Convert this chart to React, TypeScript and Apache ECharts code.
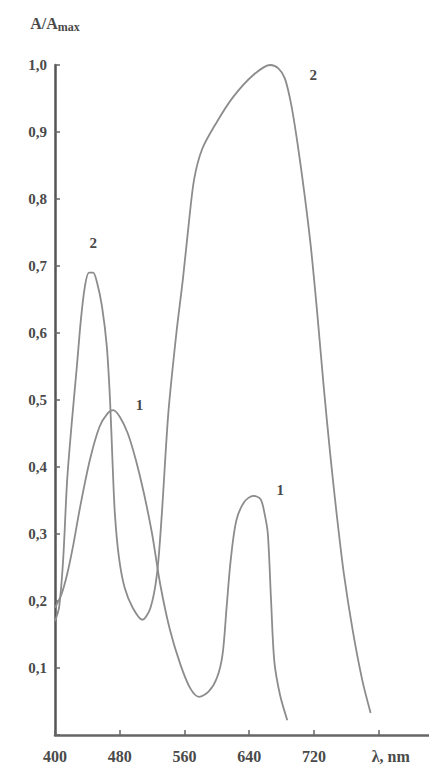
import React, { useEffect, useRef } from "react";
import * as echarts from "echarts";

// Curve 1 (wavelength nm, relative absorbance)
const curve1Nm = [400, 408, 415, 422, 431, 443, 455, 465, 472, 480, 490, 500, 510, 520, 530, 542, 555, 567, 578, 590, 600, 607, 612, 617, 624, 634, 645, 654, 659, 663, 667, 671, 678, 687];
const curve1Val = [0.19, 0.21, 0.24, 0.28, 0.34, 0.41, 0.46, 0.48, 0.485, 0.475, 0.45, 0.41, 0.36, 0.3, 0.225, 0.157, 0.105, 0.07, 0.057, 0.065, 0.085, 0.12, 0.19, 0.26, 0.32, 0.348, 0.357, 0.352, 0.33, 0.3, 0.2, 0.11, 0.06, 0.022];

// Curve 2
const curve2Nm = [400, 405, 410, 415, 421, 427, 432, 437, 442, 447, 452, 458, 464, 468, 471, 474, 479, 486, 496, 508, 518, 526, 532, 540, 550, 558, 565, 572, 582, 600, 620, 645, 666, 676, 684, 692, 700, 708, 716, 724, 732, 740, 748, 757, 768, 780, 790];
const curve2Val = [0.17, 0.19, 0.26, 0.38, 0.47, 0.55, 0.62, 0.67, 0.69, 0.69, 0.675, 0.64, 0.58, 0.5, 0.41, 0.33, 0.265, 0.22, 0.19, 0.172, 0.19, 0.24, 0.33, 0.48, 0.6, 0.68, 0.76, 0.83, 0.875, 0.915, 0.952, 0.985, 1.0, 0.995, 0.98, 0.94, 0.88, 0.81, 0.73, 0.63, 0.52, 0.42, 0.33, 0.24, 0.155, 0.08, 0.033];

// Curve labels: [nm, value, text]
const curve1Labels: [number, number, string][] = [[471, 0.485, "1"], [650, 0.357, "1"]];
const curve2Labels: [number, number, string][] = [[446, 0.69, "2"], [666, 1.0, "2"]];

const xTicks = [400, 480, 560, 640, 720, 800];
const xTickLabels = ["400", "480", "560", "640", "720", "λ, nm"];

const FONT = "'Liberation Serif', 'DejaVu Serif', serif";
const TEXT = "#4a4a4a";
const LINE = "#8c8c8c";

export default function App() {
  const ref = useRef<HTMLDivElement>(null);
  useEffect(() => {
    if (!ref.current) return;
    const chart = echarts.init(ref.current, undefined, { renderer: "svg" });
    const mk = (labels: [number, number, string][], offsets: number[][]) =>
      labels.map((l, i) => ({
        coord: [l[0], l[1]],
        value: l[2],
        label: { offset: offsets[i] },
      }));
    const markStyle = {
      symbol: "circle",
      symbolSize: 1,
      itemStyle: { color: "rgba(0,0,0,0)" },
      label: {
        show: true,
        position: "inside",
        formatter: (p: any) => p.value,
        color: TEXT,
        fontFamily: FONT,
        fontWeight: "bold",
        fontSize: 15,
      },
    };
    chart.setOption({
      animation: false,
      backgroundColor: "#ffffff",
      grid: { left: 47, right: 0, top: 57, bottom: 38, containLabel: false },
      xAxis: {
        type: "value",
        min: 400,
        max: 872,
        splitLine: { show: false },
        axisLine: { lineStyle: { color: "#666", width: 2.5 } },
        axisTick: {
          inside: true,
          length: 5,
          customValues: xTicks,
          lineStyle: { color: "#666", width: 1.5 },
        },
        axisLabel: {
          customValues: xTicks,
          margin: 13,
          color: TEXT,
          fontFamily: FONT,
          fontWeight: "bold",
          fontSize: 16,
          formatter: (v: number) => {
            const i = xTicks.indexOf(v);
            if (i === xTicks.length - 1) return "{n|" + xTickLabels[i] + "}";
            return i >= 0 ? xTickLabels[i] : "";
          },
          rich: {
            n: {
              padding: [0, 0, 0, 24],
              color: TEXT,
              fontFamily: FONT,
              fontWeight: "bold",
              fontSize: 16,
            },
          },
        },
      },
      yAxis: {
        type: "value",
        min: 0,
        max: 1,
        interval: 0.1,
        name: "{a|A/A}{s|max}",
        nameLocation: "end",
        nameGap: 32,
        nameTextStyle: {
          rich: {
            a: { fontFamily: FONT, fontWeight: "bold", fontSize: 16, color: TEXT },
            s: { fontFamily: FONT, fontWeight: "bold", fontSize: 12, color: TEXT, verticalAlign: "bottom", padding: [7, 0, 0, 0] },
          },
        },
        splitLine: { show: false },
        axisLine: { show: true, lineStyle: { color: "#555", width: 2.5 } },
        axisTick: { show: true, inside: true, length: 5, lineStyle: { color: "#666", width: 1.5 } },
        axisLabel: {
          margin: 8,
          color: TEXT,
          fontFamily: FONT,
          fontWeight: "bold",
          fontSize: 15,
          formatter: (v: number) => (v === 0 ? "" : v.toFixed(1).replace(".", ",")),
        },
      },
      series: [
        {
          type: "line",
          name: "1",
          data: curve1Nm.map((x, i) => [x, curve1Val[i]]),
          smooth: 0.3,
          showSymbol: false,
          lineStyle: { color: LINE, width: 1.8 },
          markPoint: { ...markStyle, data: mk(curve1Labels, [[27, -5], [23, -6]]) },
        },
        {
          type: "line",
          name: "2",
          data: curve2Nm.map((x, i) => [x, curve2Val[i]]),
          smooth: 0.3,
          showSymbol: false,
          lineStyle: { color: LINE, width: 1.8 },
          markPoint: { ...markStyle, data: mk(curve2Labels, [[1, -30], [43, 10]]) },
        },
      ],
    });
    return () => chart.dispose();
  }, []);
  return <div ref={ref} style={{ width: 429, height: 765 }} />;
}
